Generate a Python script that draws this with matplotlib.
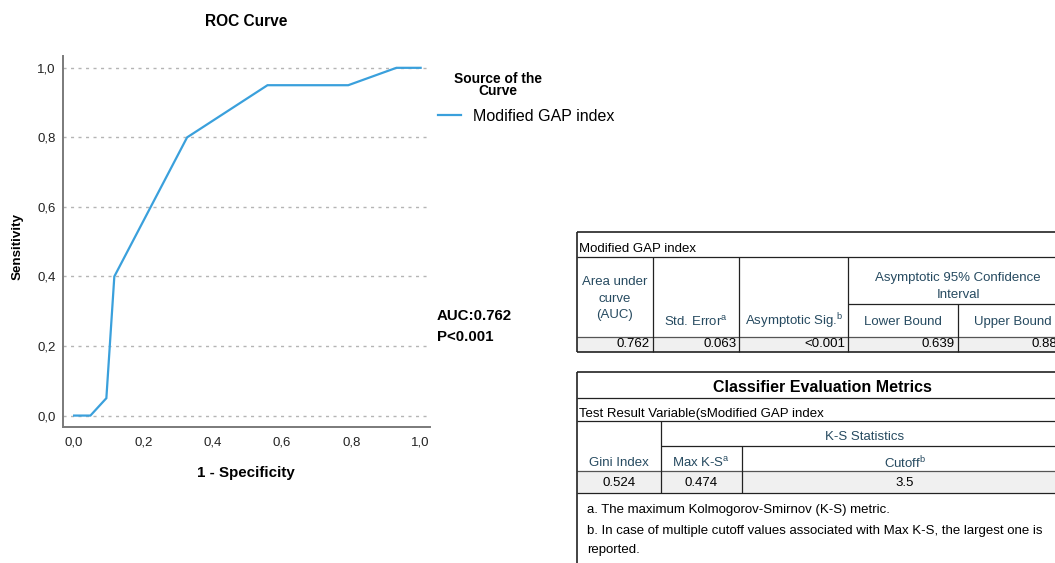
import matplotlib
matplotlib.use("Agg")
import matplotlib.pyplot as plt
from matplotlib.lines import Line2D
from matplotlib.patches import Rectangle
from matplotlib.ticker import FuncFormatter, MultipleLocator

plt.rcParams['font.family'] = ['Liberation Sans', 'DejaVu Sans']
plt.rcParams['mathtext.fontset'] = 'custom'
plt.rcParams['mathtext.rm'] = 'Liberation Sans'

# ROC curve points (1 - specificity, sensitivity)
fpr = [0.0, 0.047, 0.093, 0.116, 0.326, 0.558, 0.791, 0.930, 1.0]
tpr = [0.0, 0.0, 0.05, 0.40, 0.80, 0.95, 0.95, 1.0, 1.0]
series_name = "Modified GAP index"
auc_text = "AUC:0.762"
p_text = "P<0.001"
y_ticks = [0.0, 0.2, 0.4, 0.6, 0.8, 1.0]

# Area-under-curve table
auc_headers = ["Area under\ncurve\n(AUC)", r"Std. Error$^{\mathrm{a}}$",
               r"Asymptotic Sig.$^{\mathrm{b}}$", "Lower Bound", "Upper Bound"]
auc_values = ["0.762", "0.063", "<0.001", "0.639", "0.885"]
ci_header = "Asymptotic 95% Confidence\nInterval"

# Classifier evaluation metrics table
metric_title = "Classifier Evaluation Metrics"
metric_var = "Test Result Variable(sModified GAP index"
metric_headers = ["Gini Index", r"Max K-S$^{\mathrm{a}}$", r"Cutoff$^{\mathrm{b}}$"]
metric_values = ["0.524", "0.474", "3.5"]
ks_header = "K-S Statistics"
footnotes = ["a. The maximum Kolmogorov-Smirnov (K-S) metric.",
             "b. In case of multiple cutoff values associated with Max K-S, the largest one is",
             "reported."]

W, H = 1055, 563
fig = plt.figure(figsize=(W / 100, H / 100), dpi=100)

# ---- ROC chart ----
ax = fig.add_axes([62.7 / W, 1 - 426.7 / H, (430 - 62.7) / W, (426.7 - 56) / H])
line_color = '#3AA0DC'
ax.plot(fpr, tpr, color=line_color, lw=1.6, solid_joinstyle='miter', zorder=3)
ax.set_xlim(-0.033, 1.027)
ax.set_ylim(-0.032, 1.034)
ax.xaxis.set_major_locator(MultipleLocator(0.2))
ax.set_yticks(y_ticks)
fmt = FuncFormatter(lambda v, _: f"{v:.1f}".replace('.', ','))
ax.xaxis.set_major_formatter(fmt)
ax.yaxis.set_major_formatter(fmt)
ax.tick_params(length=0, labelsize=9.5, colors='#222222')
ax.tick_params(axis='x', pad=7)
ax.tick_params(axis='y', pad=5)
for s in ['top', 'right']:
    ax.spines[s].set_visible(False)
for s in ['left', 'bottom']:
    ax.spines[s].set_color('#7a7a7a')
    ax.spines[s].set_linewidth(1.4)
ax.yaxis.grid(True, linestyle=(0, (2.2, 3.2)), color='#b5b5b5', lw=1.0)
ax.set_axisbelow(True)
ax.set_xlabel("1 - Specificity", fontsize=10.9, fontweight='bold', labelpad=13)
ax.set_ylabel("Sensitivity", fontsize=9.6, fontweight='bold')
ax.yaxis.set_label_coords(-0.107, 0.485)

fig.text(246.5 / W, 1 - 21 / H, "ROC Curve", fontsize=11.2, fontweight='bold',
         ha='center', va='center')

# legend heading and entry
fig.text(497.7 / W, 1 - 85 / H, "Source of the\nCurve", fontsize=9.9,
         fontweight='bold', ha='center', va='center', linespacing=0.85)
handle = Line2D([], [], color=line_color, lw=1.6)
fig.legend(handles=[handle], labels=[series_name], loc='center left',
           bbox_to_anchor=(438 / W, 1 - 116.5 / H), frameon=False,
           borderpad=0, borderaxespad=0, handlelength=1.42,
           handletextpad=0.75, fontsize=11.5)

fig.text(436.7 / W, 1 - 315.7 / H, auc_text, fontsize=10.8, fontweight='bold',
         va='center')
fig.text(436.7 / W, 1 - 337.3 / H, p_text, fontsize=10.8, fontweight='bold',
         va='center')

# ---- tables (pixel-space overlay) ----
ov = fig.add_axes([0, 0, 1, 1], facecolor='none')
ov.set_xlim(0, W)
ov.set_ylim(H, 0)
ov.axis('off')

hdr_color = '#264A60'
dark = '#222222'
mid = '#555555'
shade = '#F0F0F0'
tsize = 9.5


def hline(y, x0, x1, color=dark, lw=0.9):
    ov.plot([x0, x1], [y, y], color=color, lw=lw, solid_capstyle='butt')


def vline(x, y0, y1, color=dark, lw=0.9):
    ov.plot([x, x], [y0, y1], color=color, lw=lw, solid_capstyle='butt')


# table 1
L, R = 576.7, 1067.7
t1_top, t1_title, t1_sub, t1_hdr, t1_bot = 231.7, 256.7, 304.3, 336.7, 352.3
c1 = [L, 652.7, 739.3, 848.3, 957.7, R]
ov.add_patch(Rectangle((L, t1_hdr), R - L, t1_bot - t1_hdr, color=shade, lw=0))
hline(t1_top, L, R, lw=1.2)
hline(t1_title, L, R)
hline(t1_sub, c1[3], R)
hline(t1_hdr, L, R, color=mid)
hline(t1_bot, L, R, lw=1.2)
vline(L, t1_top, t1_bot, lw=1.2)
for x in c1[1:4]:
    vline(x, t1_title, t1_bot)
vline(c1[4], t1_sub, t1_bot)

ov.text(L + 2.5, 249, series_name, fontsize=tsize, va='center', ha='left')
ov.text((c1[0] + c1[1]) / 2, 298.5, auc_headers[0], fontsize=tsize, ha='center',
        va='center', color=hdr_color, linespacing=1.55)
for i in (1, 2):
    ov.text((c1[i] + c1[i + 1]) / 2, 321.7, auc_headers[i], fontsize=tsize,
            ha='center', va='center', color=hdr_color)
ov.text((c1[3] + R) / 2, 286.3, ci_header, fontsize=tsize, ha='center',
        va='center', color=hdr_color, linespacing=1.55)
for i in (3, 4):
    ov.text((c1[i] + c1[i + 1]) / 2, 321.7, auc_headers[i], fontsize=tsize,
            ha='center', va='center', color=hdr_color)
for i, v in enumerate(auc_values):
    ov.text(c1[i + 1] - 3, 344.3, v, fontsize=tsize, ha='right', va='center')

# table 2
t2_top, t2_title, t2_var, t2_ks, t2_hdr, t2_data = 372.3, 398.3, 421, 445.7, 471, 493.3
c2 = [L, 660.7, 741.7, R]
ov.add_patch(Rectangle((L, t2_hdr), R - L, t2_data - t2_hdr, color=shade, lw=0))
hline(t2_top, L, R, lw=1.2)
hline(t2_title, L, R)
hline(t2_var, L, R)
hline(t2_ks, c2[1], R)
hline(t2_hdr, L, R, color=mid)
hline(t2_data, L, R)
vline(L, t2_top, H, lw=1.2)
vline(c2[1], t2_var, t2_data)
vline(c2[2], t2_ks, t2_data)

ov.text((L + R) / 2, 387.7, metric_title, fontsize=11.5, fontweight='bold',
        ha='center', va='center')
ov.text(L + 2.5, 414.5, metric_var, fontsize=tsize, ha='left', va='center')
ov.text((c2[1] + R) / 2, 436.7, ks_header, fontsize=tsize, ha='center',
        va='center', color=hdr_color)
for i, h in enumerate(metric_headers):
    ov.text((c2[i] + c2[i + 1]) / 2, 462.7, h, fontsize=tsize, ha='center',
            va='center', color=hdr_color)
for i, v in enumerate(metric_values):
    ov.text((c2[i] + c2[i + 1]) / 2, 483.3, v, fontsize=tsize, ha='center',
            va='center')
for y, note in zip([510.5, 531.0, 550.0], footnotes):
    ov.text(L + 10, y, note, fontsize=tsize, ha='left', va='center')

fig.savefig("out.png", dpi=100)
